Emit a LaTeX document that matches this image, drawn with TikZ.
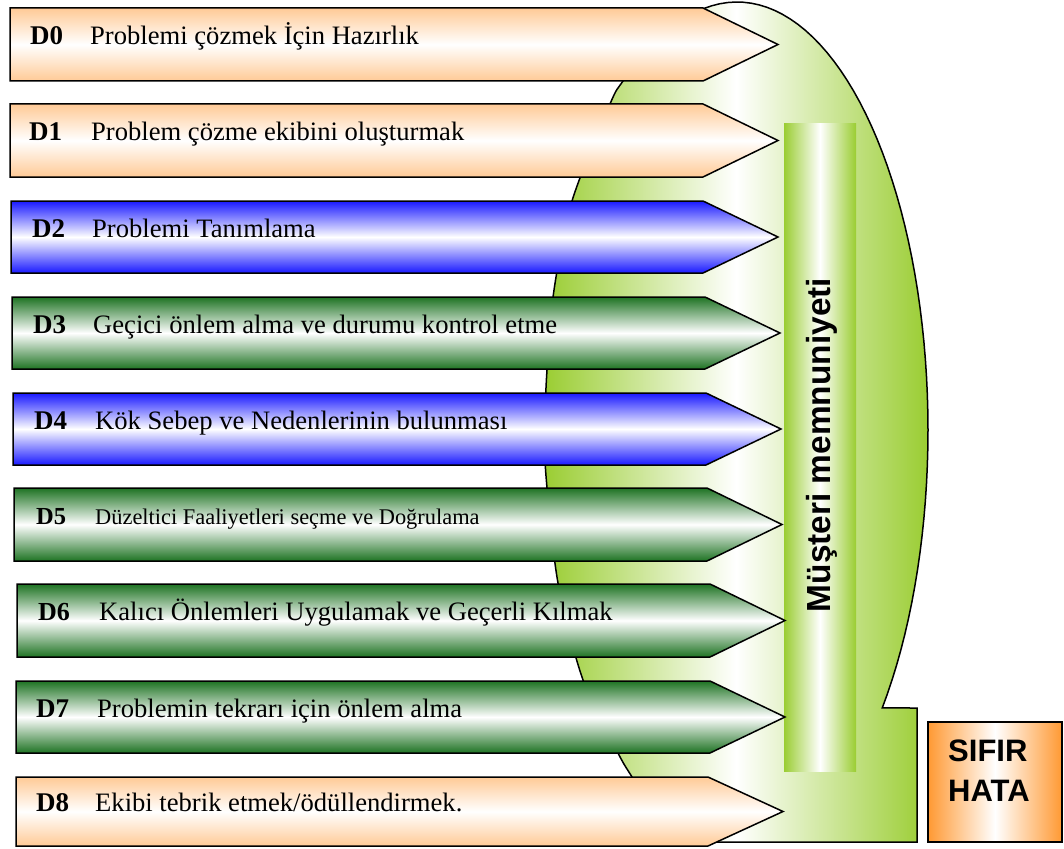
\documentclass[tikz,border=0pt]{standalone}
\usepackage{fontspec}
\setmainfont{Liberation Serif}
\setsansfont{Liberation Sans}
\usepackage{tikz}
\usetikzlibrary{positioning}
\usepackage{xcolor}
\definecolor{cPeach}{RGB}{255,202,150}
\definecolor{cBlue}{RGB}{25,25,255}
\definecolor{cGreen}{RGB}{30,115,35}
\definecolor{cYG}{RGB}{154,205,50}
\definecolor{cOrange}{RGB}{255,153,51}
\tikzset{
  dstep/.style={draw=black,line width=1.5pt,line join=miter},
  peachstep/.style={dstep,top color=cPeach,bottom color=cPeach,middle color=white},
  bluestep/.style={dstep,top color=cBlue,bottom color=cBlue,middle color=white},
  greenstep/.style={dstep,top color=cGreen,bottom color=cGreen,middle color=white},
  dlab/.style={font=\fontsize{#1}{#1}\selectfont\bfseries,inner sep=0pt,anchor=base west},
  dlab/.default=27,
  dtxt/.style={font=\fontsize{#1}{#1}\selectfont,inner sep=0pt,anchor=base west},
  dtxt/.default=26.6,
  moon/.style={draw=black,line width=1.5pt,left color=cYG,right color=cYG,middle color=white},
  bar/.style={draw=none,inner sep=0pt,minimum width=72pt,minimum height=648pt,
    left color=cYG,right color=cYG,middle color=white},
  bartxt/.style={font=\sffamily\bfseries\fontsize{33.4}{33.4}\selectfont,rotate=90,inner sep=0pt},
  zerobox/.style={draw=black,line width=1.5pt,inner sep=0pt,minimum width=134pt,
    minimum height=120pt,left color=cOrange,right color=cOrange,middle color=white},
  zerotxt/.style={font=\sffamily\bfseries\fontsize{31}{39.3}\selectfont,align=left,
    inner sep=0pt,anchor=north west},
}
% one step arrow: style, name, left x, top y, bottom y, end of body
\newcommand{\stepshape}[6]{%
  \path[#1] (#3,#4) -- (#6,#4) -- ({#6+75},{(#4+#5)/2}) -- (#6,#5) -- (#3,#5) -- cycle;
  \coordinate (#2) at (#3,{(#4+#5)/2});}

\begin{document}
\begin{tikzpicture}[x=1pt,y=-1pt]
  \useasboundingbox (0,0) rectangle (1064,848);

  % green background with foot
  \draw[moon] plot[domain=100:-40.5,samples=60] ({737+191*cos(\x)},{430-428*sin(\x)})
    -- (917,708) -- (917,842) -- (700,842)
    -- plot[smooth] coordinates {(700,842) (655,815) (632,777) (618,753) (583,680)
       (558,583) (546,476) (545,423) (547,370) (554,290) (572,201) (610,104) (623,81) (655,38)}
    -- cycle;

  % vertical bar
  \node[bar] (bar) at (820,447) {};
  \node[bartxt] (barTxt) at ([xshift=2pt,yshift=2pt]bar.center) {Müşteri memnuniyeti};

  % the eight disciplines
  \stepshape{peachstep}{a0}{10}{8}{81}{703}
  \node[dlab] (d0) at ([xshift=20pt]a0) {D0};
  \node[dtxt] (t0) at ([xshift=80pt]a0) {Problemi çözmek İçin Hazırlık};

  \stepshape{peachstep}{a1}{10}{104}{177}{703}
  \node[dlab] (d1) at ([xshift=19pt]a1) {D1};
  \node[dtxt] (t1) at ([xshift=81pt]a1) {Problem çözme ekibini oluşturmak};

  \stepshape{bluestep}{a2}{11}{201}{273}{703}
  \node[dlab] (d2) at ([xshift=21pt]a2) {D2};
  \node[dtxt] (t2) at ([xshift=81pt]a2) {Problemi Tanımlama};

  \stepshape{greenstep}{a3}{12}{297}{369}{705}
  \node[dlab] (d3) at ([xshift=21pt]a3) {D3};
  \node[dtxt] (t3) at ([xshift=81pt]a3) {Geçici önlem alma ve durumu kontrol etme};

  \stepshape{bluestep}{a4}{13}{393}{465}{706}
  \node[dlab] (d4) at ([xshift=21pt]a4) {D4};
  \node[dtxt] (t4) at ([xshift=82pt]a4) {Kök Sebep ve Nedenlerinin bulunması};

  \stepshape{greenstep}{a5}{14}{488}{561}{707}
  \node[dlab=24.5] (d5) at ([xshift=22pt]a5) {D5};
  \node[dtxt=22.4] (t5) at ([xshift=81pt]a5) {Düzeltici Faaliyetleri seçme ve Doğrulama};

  \stepshape{greenstep}{a6}{17}{584}{657}{710}
  \node[dlab=26] (d6) at ([xshift=21pt]a6) {D6};
  \node[dtxt] (t6) at ([xshift=82pt]a6) {Kalıcı Önlemleri Uygulamak ve Geçerli Kılmak};

  \stepshape{greenstep}{a7}{16}{681}{753}{710}
  \node[dlab] (d7) at ([xshift=20pt]a7) {D7};
  \node[dtxt] (t7) at ([xshift=81pt]a7) {Problemin tekrarı için önlem alma};

  \stepshape{peachstep}{a8}{16}{777}{846}{708}
  \node[dlab] (d8) at ([xshift=20pt]a8) {D8};
  \node[dtxt] (t8) at ([xshift=79pt]a8) {Ekibi tebrik etmek/ödüllendirmek.};

  % zero defects
  \node[zerobox] (zero) at (995,782) {};
  \node[zerotxt] (zeroTxt) at (948,740) {SIFIR\\HATA};
\end{tikzpicture}
\end{document}
